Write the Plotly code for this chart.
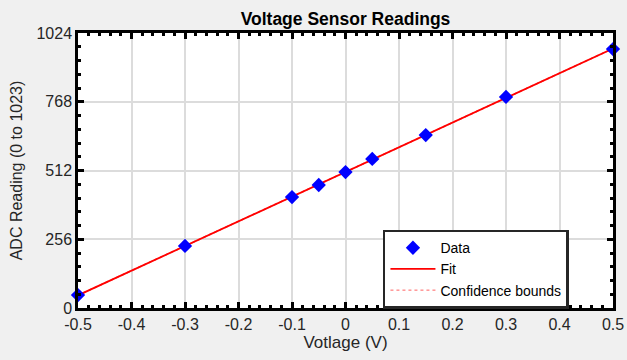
import numpy as np
import plotly.graph_objects as go

voltage = [-0.5, -0.3, -0.1, -0.05, 0.0, 0.05, 0.15, 0.3, 0.5]
adc = [48, 231, 413, 458, 506, 555, 644, 786, 964]
xticks = [-0.5, -0.4, -0.3, -0.2, -0.1, 0, 0.1, 0.2, 0.3, 0.4, 0.5]
yticks = [0, 256, 512, 768, 1024]

coef = np.polyfit(voltage, adc, 1)
fit_x = np.linspace(-0.5, 0.5, 50)
fit_y = np.polyval(coef, fit_x)
conf_half = [1.5] * len(fit_x)
lower = fit_y - np.array(conf_half)
upper = fit_y + np.array(conf_half)

FONT = "Arial, Liberation Sans"

fig = go.Figure()
fig.add_trace(go.Scatter(x=fit_x, y=lower, mode="lines", name="Confidence bounds",
                         line=dict(color="#ff6060", width=1, dash="dot"), showlegend=False,
                         legendrank=3))
fig.add_trace(go.Scatter(x=fit_x, y=upper, mode="lines", name="Confidence bounds",
                         line=dict(color="#ff6060", width=1, dash="dot"), legendrank=3))
fig.add_trace(go.Scatter(x=fit_x, y=fit_y, mode="lines", name="Fit",
                         line=dict(color="#ff0000", width=1.8), legendrank=2))
fig.add_trace(go.Scatter(x=voltage, y=adc, mode="markers", name="Data",
                         marker=dict(symbol="diamond", size=11, color="#0000ff"),
                         cliponaxis=False, legendrank=1))

axis_common = dict(showline=True, linecolor="#000000", linewidth=2.5, mirror="ticks",
                   ticks="inside", ticklen=6, tickwidth=2.5, tickcolor="#000000",
                   showgrid=True, gridcolor="#dcdcdc", gridwidth=2, zeroline=False,
                   automargin=False,
                   tickfont=dict(family=FONT, size=16, color="#262626"))

fig.update_xaxes(range=[-0.5, 0.5], tickvals=xticks,
                 ticktext=[("%g" % v) for v in xticks],
                 title=dict(text="Votlage (V)", font=dict(family=FONT, size=17, color="#262626"), standoff=3),
                 minor=dict(dtick=0.02, ticks="inside", ticklen=3, tickwidth=2.5, tickcolor="#000000", showgrid=False),
                 **axis_common)
fig.update_yaxes(range=[0, 1024], tickvals=yticks,
                 title=dict(text="ADC Reading (0 to 1023)", font=dict(family=FONT, size=16, color="#262626"), standoff=10),
                 minor=dict(dtick=51.2, tick0=0, ticks="inside", ticklen=3, tickwidth=2.5, tickcolor="#000000", showgrid=False),
                 **axis_common)

fig.update_layout(
    width=627, height=360,
    margin=dict(l=78, r=14, t=33, b=52),
    paper_bgcolor="#f0f0f0", plot_bgcolor="#ffffff",
    title=dict(text="<b>Voltage Sensor Readings</b>", x=0.5, xref="paper", xanchor="center",
               y=0.947, yanchor="middle",
               font=dict(family=FONT, size=17.5, color="#000000")),
    legend=dict(x=0.57, y=0.285, xanchor="left", yanchor="top",
                bgcolor="#ffffff", bordercolor="#262626", borderwidth=2.5,
                font=dict(family=FONT, size=14, color="#000000"),
                tracegroupgap=0, itemwidth=45),
    showlegend=True,
)

fig.write_html("out.html", config={"displayModeBar": False},
               post_script="document.body.style.margin='0';document.body.style.background='#f0f0f0';")
